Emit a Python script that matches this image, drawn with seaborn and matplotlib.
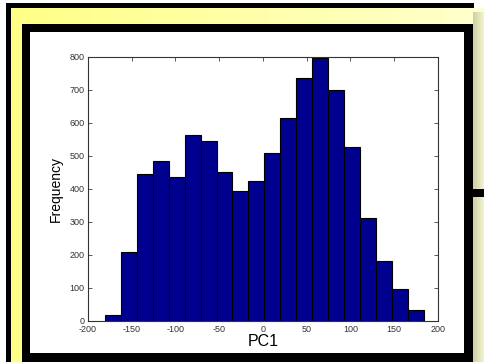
import numpy as np
import matplotlib
matplotlib.use("Agg")
import matplotlib.pyplot as plt
import seaborn as sns

# ---- data ----
bin_centers = [-171.5, -153.3, -135.1, -116.9, -98.7, -80.5, -62.2, -44.0, -25.8, -7.6,
               10.6, 28.8, 47.0, 65.2, 83.4, 101.7, 119.9, 138.1, 156.3, 174.5]
counts = [17, 208, 444, 484, 436, 563, 544, 449, 393, 422,
          508, 613, 734, 795, 700, 526, 312, 180, 96, 33]
x_ticks = [-200, -150, -100, -50, 0, 50, 100, 150, 200]
y_ticks = [0, 100, 200, 300, 400, 500, 600, 700, 800]
x_label = "PC1"
y_label = "Frequency"

sns.set_theme(style="white")
plt.rcParams['font.family'] = ['Liberation Sans', 'DejaVu Sans']

W, H = 485, 362
fig = plt.figure(figsize=(W / 100, H / 100), dpi=100)

# ---- decorative frame background ----
bg = fig.add_axes([0, 0, 1, 1])
bg.axis('off')
img = np.ones((H, W, 3))
t = np.linspace(0, 1, W)
yellow = np.stack([np.ones(W), np.ones(W), 0.52 + 0.28 * t], axis=1)
img[8:, 11:, :] = yellow[11:][None, :, :]
# right soft shadow strip
s = np.linspace(0, 1, W - 473)
shadow = np.stack([0.82 + 0.14 * s, 0.82 + 0.14 * s, 0.64 + 0.2 * s], axis=1)
img[12:, 473:, :] = shadow[None, :, :]
img[3:8, 6:474, :] = 0.0          # outer top band
img[3:, 6:11, :] = 0.0            # outer left band
img[24:, 22:473, :] = 0.0         # inner thick frame
img[32:353, 30:464, :] = 1.0      # white panel
img[189:197, 473:, :] = 0.0       # connector stub
bg.imshow(img, extent=(0, W, H, 0), interpolation='nearest', aspect='auto')
bg.set_xlim(0, W)
bg.set_ylim(H, 0)

# ---- histogram axes ----
ax_l, ax_r, ax_t, ax_b = 88, 438, 56.7, 320.5
ax = fig.add_axes([ax_l / W, 1 - ax_b / H, (ax_r - ax_l) / W, (ax_b - ax_t) / H])
bw = float(np.mean(np.diff(bin_centers)))
sns.histplot(x=bin_centers, weights=counts, binwidth=bw,
             binrange=(bin_centers[0] - bw / 2, bin_centers[-1] + bw / 2),
             color='#00008F', edgecolor='black', linewidth=0.8, alpha=1.0, ax=ax)
ax.set_facecolor('white')
ax.set_xlim(x_ticks[0], x_ticks[-1])
ax.set_ylim(y_ticks[0], y_ticks[-1])
ax.set_xticks(x_ticks)
ax.set_yticks(y_ticks)
ax.set_xticklabels([str(v) for v in x_ticks])
ax.set_yticklabels([str(v) for v in y_ticks])
for sp in ax.spines.values():
    sp.set_visible(True)
    sp.set_color('#333333')
    sp.set_linewidth(0.8)
ax.tick_params(direction='in', length=3, width=0.7, color='#555555',
               top=True, right=True, bottom=True, left=True,
               labelsize=6.5, labelcolor='#333333')
ax.tick_params(axis='y', pad=2.5)
ax.tick_params(axis='x', pad=3.5)
ax.set_xlabel(x_label, fontsize=11.5, color='black', labelpad=0)
ax.set_ylabel(y_label, fontsize=10, color='black', labelpad=5)

fig.savefig("out.png", dpi=100)
